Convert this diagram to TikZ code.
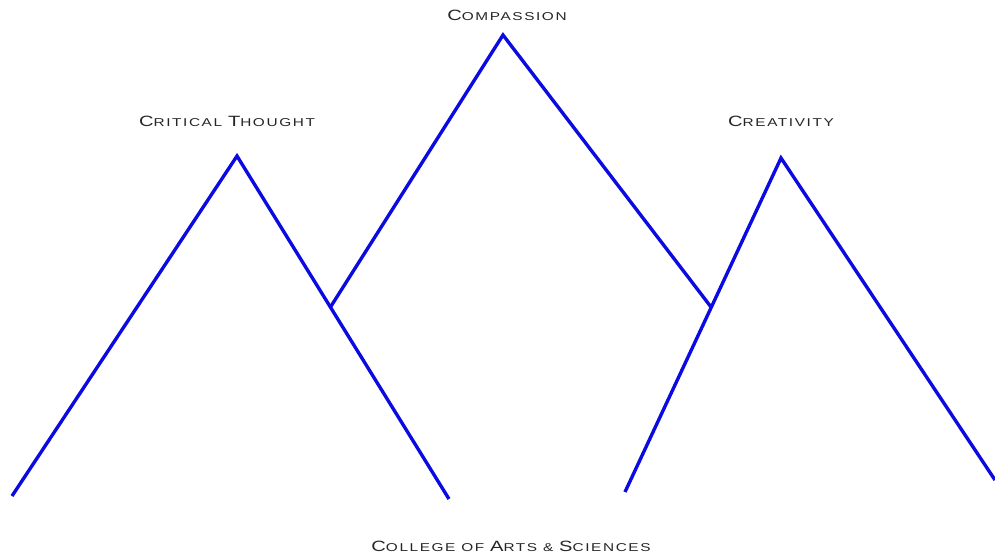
\documentclass[tikz,border=0pt]{standalone}
\usepackage{fontspec}
\newfontfamily\capfont[FakeStretch=1.35,LetterSpace=14]{Liberation Sans}
\newcommand{\initcap}[1]{{\fontsize{10.6}{12}\selectfont #1}}
\definecolor{peakblue}{RGB}{10,10,225}
\tikzset{
	ridge/.style={peakblue, line width=2.4pt},
	caption/.style={text=black!85, font=\capfont\fontsize{8.1}{10}\selectfont, inner sep=0pt}
}
\begin{document}
\begin{tikzpicture}[x=0.025cm, y=-0.025cm]
	\useasboundingbox (0,0) rectangle (995,554);
	% left peak
	\coordinate (ctfoot) at (12,496);
	\coordinate (cttop) at (237,156);
	\coordinate (ctend) at (449,499);
	% middle peak
	\coordinate (cpjoin) at (330.5,307);
	\coordinate (cptop) at (503,35);
	\coordinate (cpjoinb) at (711,307);
	% right peak
	\coordinate (crfoot) at (625,492);
	\coordinate (crtop) at (781,158);
	\coordinate (crend) at (995,480);
	\draw[ridge] (ctfoot) -- (cttop) -- (ctend);
	\draw[ridge] (cpjoin) -- (cptop) -- (cpjoinb);
	\draw[ridge] (crfoot) -- (crtop) -- (crend);
	\node[caption] (compassion) at (507,15) {\initcap{C}OMPASSION};
	\node[caption] (critical) at (227,121) {\initcap{C}RITICAL \initcap{T}HOUGHT};
	\node[caption] (creativity) at (781,121) {\initcap{C}REATIVITY};
	\node[caption] (college) at (511,546) {\initcap{C}OLLEGE OF \initcap{A}RTS \& \initcap{S}CIENCES};
\end{tikzpicture}
\end{document}
